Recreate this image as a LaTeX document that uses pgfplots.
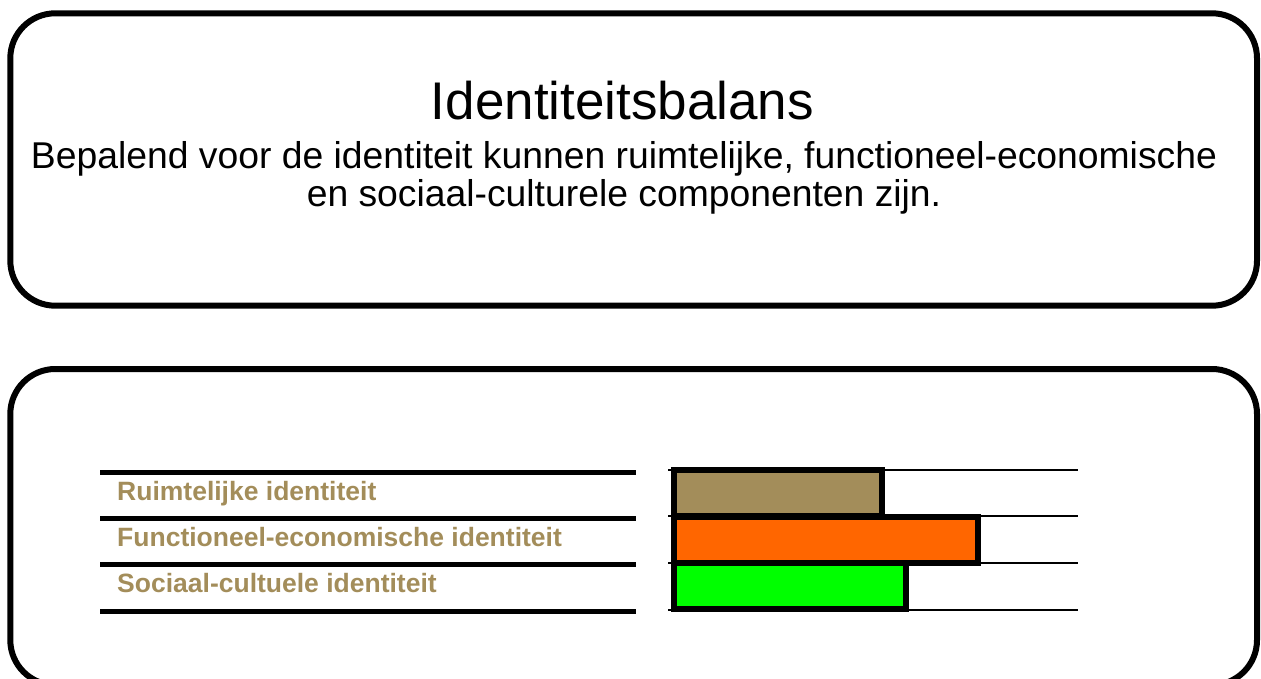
\documentclass[border=0pt]{standalone}
\usepackage{fontspec}
\setmainfont{Liberation Sans}
\usepackage{pgfplots}
\pgfplotsset{compat=1.18}
\definecolor{tanc}{RGB}{163,141,90}
\definecolor{orangec}{RGB}{255,102,0}
\definecolor{greenc}{RGB}{0,255,0}
\begin{document}
\begin{tikzpicture}[x=1pt,y=-1pt]
\useasboundingbox (0,0) rectangle (1261,679);
\clip (0,0) rectangle (1261,679);
\draw[line width=6pt, rounded corners=45pt] (10.3,13.3) rectangle (1257,305.7);
\draw[line width=6pt, rounded corners=45pt] (10.3,369) rectangle (1257,685);
\node[anchor=base, inner sep=0pt, font=\fontsize{53}{60}\selectfont] at (622.5,120) {Identiteitsbalans};
\node[anchor=base, inner sep=0pt, font=\fontsize{37.3}{40}\selectfont] at (624,169) {Bepalend voor de identiteit kunnen ruimtelijke, functioneel-economische};
\node[anchor=base, inner sep=0pt, font=\fontsize{37.3}{40}\selectfont] at (624,207) {en sociaal-culturele componenten zijn.};
\foreach \yy in {472.5,518.5,564.5,611} \draw[line width=5pt] (100,\yy) -- (636,\yy);
\node[anchor=base west, inner sep=0pt, text=tanc, font=\fontsize{26.5}{30}\selectfont\bfseries] at (117,500) {Ruimtelijke identiteit};
\node[anchor=base west, inner sep=0pt, text=tanc, font=\fontsize{26.5}{30}\selectfont\bfseries] at (117,546) {Functioneel-economische identiteit};
\node[anchor=base west, inner sep=0pt, text=tanc, font=\fontsize{26.5}{30}\selectfont\bfseries] at (117,592) {Sociaal-cultuele identiteit};
\begin{axis}[
  at={(668pt,-609.7pt)}, anchor=south west,
  width=410pt, height=140pt, scale only axis,
  xbar, bar width=46pt, bar shift=0pt,
  xmin=-1.5, xmax=101, ymin=-0.5, ymax=2.5,
  y dir=reverse,
  axis line style={draw=none},
  xtick=\empty,
  ytick={-0.5,0.5,1.5,2.5}, yticklabels={},
  major tick length=0pt, tick style={draw=none},
  ymajorgrids, major grid style={black, line width=2pt},
  clip=false,
]
\addplot[draw=black, line width=6pt, fill=tanc] coordinates {(52,0)};
\addplot[draw=black, line width=6pt, fill=orangec] coordinates {(76,1)};
\addplot[draw=black, line width=6pt, fill=greenc] coordinates {(58,2)};
\end{axis}
\end{tikzpicture}
\end{document}
